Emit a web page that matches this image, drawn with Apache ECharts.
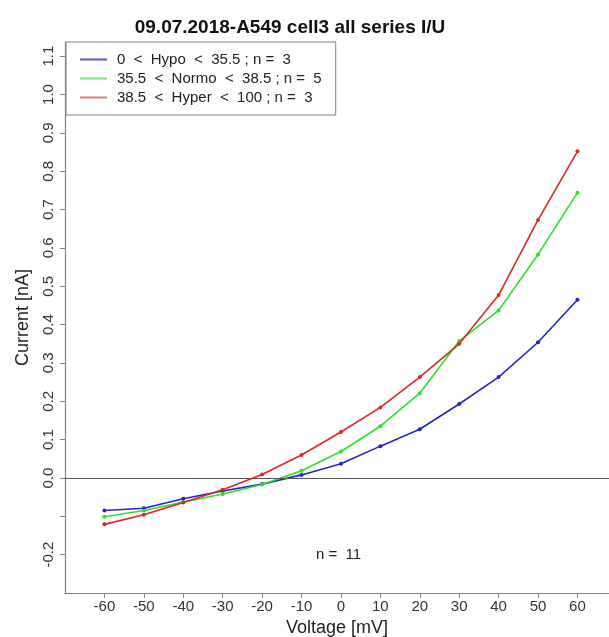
<!DOCTYPE html>
<html>
<head>
<meta charset="utf-8">
<script src="https://cdn.jsdelivr.net/npm/echarts@6/dist/echarts.min.js"></script>
<style>
  html, body { margin: 0; padding: 0; background: #fff; }
  #chart { width: 609px; height: 637px; }
</style>
</head>
<body>
<div id="chart"></div>
<script>
// voltage steps (mV)
var voltages = [-60, -50, -40, -30, -20, -10, 0, 10, 20, 30, 40, 50, 60];

// mean currents (nA)
var hypo   = [-0.085, -0.079, -0.054, -0.034, -0.016, 0.008, 0.037, 0.083, 0.127, 0.193, 0.263, 0.354, 0.465];
var normo  = [-0.101, -0.085, -0.063, -0.042, -0.017, 0.019, 0.069, 0.135, 0.221, 0.357, 0.437, 0.583, 0.744];
var hyper  = [-0.121, -0.096, -0.064, -0.031, 0.009, 0.060, 0.120, 0.184, 0.263, 0.350, 0.477, 0.673, 0.852];

var seriesNames = [
    "0  <  Hypo  <  35.5 ; n =  3",
    "35.5  <  Normo  <  38.5 ; n =  5",
    "38.5  <  Hyper  <  100 ; n =  3"
];
var seriesColors = ["#2424c8", "#30dc30", "#dc2626"];
var legendColors = ["#5a5ab8", "#7ee07e", "#e07a7a"];

var xTicks = [-60, -50, -40, -30, -20, -10, 0, 10, 20, 30, 40, 50, 60];
var yTicks = [-0.2, -0.1, 0, 0.1, 0.2, 0.3, 0.4, 0.5, 0.6, 0.7, 0.8, 0.9, 1.0, 1.1];
var yLabels = [-0.2, 0, 0.1, 0.2, 0.3, 0.4, 0.5, 0.6, 0.7, 0.8, 0.9, 1.0, 1.1];

var FONT = "Liberation Sans";
var axisGrey = "#808080";

function pairs(ys){
    var out = [];
    for (var i = 0; i < voltages.length; i++) {
        out.push([voltages[i], ys[i]]);
    }
    return out;
}

var allData = [hypo, normo, hyper];
var series = [];
var legendData = [];
for (var k = 0; k < allData.length; k++) {
    series.push({
        name: seriesNames[k],
        type: "line",
        data: pairs(allData[k]),
        symbol: "circle",
        symbolSize: 4,
        showSymbol: true,
        lineStyle: { color: seriesColors[k], width: 1.6 },
        itemStyle: { color: seriesColors[k] },
        z: 3 + k
    });
    legendData.push({
        name: seriesNames[k],
        itemStyle: { color: legendColors[k], borderWidth: 0 }
    });
}
// zero line across the plot
series[0].markLine = {
    silent: true,
    symbol: ["none", "none"],
    label: { show: false },
    lineStyle: { color: "#555", width: 1, type: "solid" },
    data: [{ yAxis: 0 }]
};

var chart = echarts.init(document.getElementById("chart"));
chart.setOption({
    animation: false,
    backgroundColor: "#fff",
    title: {
        text: "09.07.2018-A549 cell3 all series I/U",
        left: 285,
        top: 13,
        textAlign: "center",
        textStyle: { fontFamily: FONT, fontSize: 19, fontWeight: "bold", color: "#111" }
    },
    legend: {
        orient: "vertical",
        left: 66,
        top: 42,
        padding: [9, 14, 9, 14],
        itemGap: 2,
        itemWidth: 27,
        itemHeight: 2,
        icon: "rect",
        borderColor: axisGrey,
        borderWidth: 1,
        backgroundColor: "#fff",
        data: legendData,
        textStyle: { fontFamily: FONT, fontSize: 15, lineHeight: 17, color: "#222", padding: [0, 0, 0, 5] }
    },
    grid: { left: 65, top: 42, right: 0, bottom: 44, containLabel: false, outerBoundsMode: "none" },
    xAxis: {
        type: "value",
        min: -70,
        max: 68,
        name: "Voltage [mV]",
        nameLocation: "middle",
        nameGap: 22,
        nameTextStyle: { fontFamily: FONT, fontSize: 18, color: "#222" },
        axisLine: { show: true, onZero: false, lineStyle: { color: axisGrey, width: 1.2 } },
        axisTick: { show: true, length: 5, lineStyle: { color: axisGrey }, customValues: xTicks },
        axisLabel: {
            fontFamily: FONT, fontSize: 15, color: "#333", margin: 6,
            customValues: xTicks
        },
        splitLine: { show: false }
    },
    yAxis: {
        type: "value",
        min: -0.3,
        max: 1.137,
        name: "Current [nA]",
        nameLocation: "middle",
        nameRotate: 90,
        nameGap: 33,
        nameTextStyle: { fontFamily: FONT, fontSize: 18, color: "#222" },
        axisLine: { show: true, onZero: false, lineStyle: { color: axisGrey, width: 1.2 } },
        axisTick: { show: true, length: 5, lineStyle: { color: axisGrey }, customValues: yTicks },
        axisLabel: {
            fontFamily: FONT, fontSize: 15, color: "#333", margin: 9, rotate: 90,
            customValues: yLabels,
            formatter: function (v) { return v.toFixed(1); }
        },
        splitLine: { show: false }
    },
    graphic: [{
        type: "text",
        left: 316,
        top: 547,
        style: { text: "n =  11", font: "15px Liberation Sans", fill: "#222" }
    }],
    series: series
});
</script>
</body>
</html>
